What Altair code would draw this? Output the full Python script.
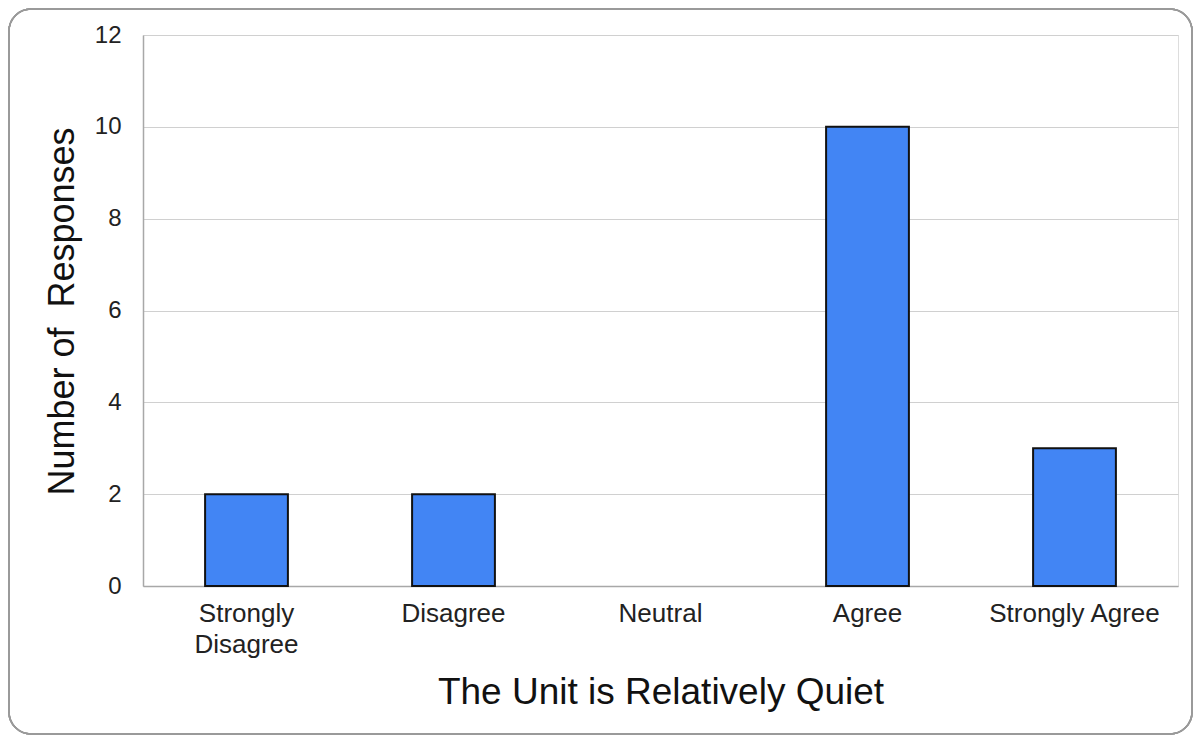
import altair as alt
import pandas as pd

categories = ["Strongly Disagree", "Disagree", "Neutral", "Agree", "Strongly Agree"]
counts = [2, 2, 0, 10, 3]
y_ticks = [0, 2, 4, 6, 8, 10, 12]

df = pd.DataFrame({"response": categories, "count": counts})

W, H = 1035, 551
PAD_L, PAD_T, PAD_R, PAD_B = 135, 27, 15, 149
FONT = "Liberation Sans"

base = alt.Chart(df)

border = base.mark_rect(
    fill="transparent", stroke="#9a9a9a", strokeWidth=1.5, cornerRadius=22, clip=False
).encode(
    x=alt.value(-PAD_L + 1),
    x2=alt.value(W + PAD_R - 1),
    y=alt.value(-PAD_T + 1),
    y2=alt.value(H + PAD_B - 1),
)

bars = base.mark_bar(fill="#4285F4", strokeWidth=2).encode(
    x=alt.X(
        "response:N",
        sort=categories,
        scale=alt.Scale(domain=categories, paddingInner=0.6, paddingOuter=0.3),
        axis=alt.Axis(
            title="The Unit is Relatively Quiet",
            labelAngle=0,
            labelFontSize=26,
            labelFont=FONT,
            labelColor="#222222",
            labelPadding=14,
            labelLineHeight=31,
            labelExpr="datum.label == 'Strongly Disagree' ? ['Strongly', 'Disagree'] : datum.label",
            ticks=False,
            tickSize=0,
            domainColor="#a8a8a8",
            domainWidth=1.5,
            titleFontSize=37,
            titleFont=FONT,
            titleFontWeight="normal",
            titleColor="#111111",
            titleY=117,
            titleBaseline="alphabetic",
        ),
    ),
    y=alt.Y(
        "count:Q",
        scale=alt.Scale(domain=[0, 12], nice=False),
        axis=alt.Axis(
            title="Number of\u00a0 Responses",
            values=y_ticks,
            labelFontSize=24,
            labelFont=FONT,
            labelColor="#222222",
            labelPadding=22,
            ticks=False,
            tickSize=0,
            domainColor="#a8a8a8",
            domainWidth=1.5,
            gridColor="#d0d0d0",
            gridWidth=1.2,
            titleFontSize=36,
            titleFont=FONT,
            titleFontWeight="normal",
            titleColor="#111111",
            titleX=-70,
            titleY=276,
            titleAngle=-90,
            titleBaseline="alphabetic",
            titleAlign="center",
        ),
    ),
    stroke=alt.condition(alt.datum["count"] > 0, alt.value("#111111"), alt.value("transparent")),
)

chart = alt.layer(border, bars).properties(
    width=W,
    height=H,
    padding={"left": PAD_L, "top": PAD_T, "right": PAD_R, "bottom": PAD_B},
    autosize=alt.AutoSizeParams(type="none"),
).configure_view(stroke=None).configure(background="white")

chart.save("out.html", embed_options={"renderer": "svg", "actions": False})
